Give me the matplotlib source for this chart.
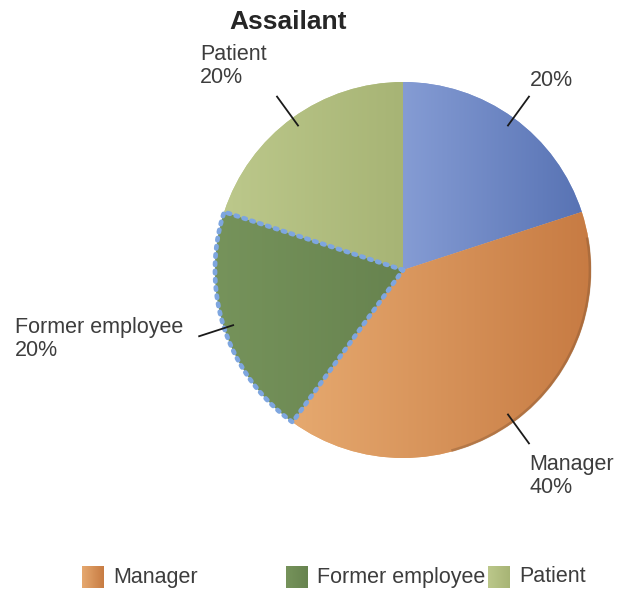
import matplotlib
matplotlib.use("Agg")
import matplotlib.pyplot as plt
import numpy as np
from matplotlib.colors import LinearSegmentedColormap
from matplotlib.patches import Arc

# ---- data ----
categories = ["", "Manager", "Former employee", "Patient"]
values = [20, 40, 20, 20]
pct_labels = ["20%", "40%", "20%", "20%"]
legend_labels = ["Manager", "Former employee", "Patient"]
light_colors = ["#859cd4", "#e6a96f", "#76935b", "#bcc88b"]
dark_colors = ["#5873b4", "#c77b43", "#67834f", "#a7b475"]

W, H = 621, 594
fig = plt.figure(figsize=(W / 100, H / 100), dpi=100)
ax = fig.add_axes([0, 0, 1, 1])

cx, cy, R = 403, H - 270, 188
wedges, _ = ax.pie(values, startangle=90, counterclock=False,
                   center=(cx, cy), radius=R,
                   colors=light_colors,
                   wedgeprops=dict(linewidth=0))
ax.set_xlim(0, W)
ax.set_ylim(0, H)
ax.set_aspect("equal")
ax.axis("off")

# gradient fill for each wedge
grad = np.linspace(0, 1, 256).reshape(1, -1)
for w, lc, dc in zip(wedges, light_colors, dark_colors):
    bb = w.get_path().get_extents(w.get_patch_transform())
    cmap = LinearSegmentedColormap.from_list("g", [lc, dc])
    im = ax.imshow(grad, cmap=cmap, extent=[bb.x0, bb.x1, bb.y0, bb.y1],
                   aspect="auto", zorder=2, interpolation="bilinear")
    im.set_clip_path(w)

# subtle shading on the right rim
ax.add_patch(Arc((cx, cy), 2 * R - 2, 2 * R - 2, theta1=-75, theta2=10,
                 color="#7a5030", lw=2.0, alpha=0.35, zorder=3))

# dotted selection border on "Former employee"
sel = wedges[2]
t1, t2 = sorted([sel.theta1, sel.theta2])
th = np.deg2rad(np.linspace(t1, t2, 120))
bx = np.concatenate([[cx], cx + R * np.cos(th), [cx]])
by = np.concatenate([[cy], cy + R * np.sin(th), [cy]])
ax.plot(bx, by, color="#7ea6df", lw=3.4, linestyle=(0, (0.5, 1.25)),
        dash_capstyle="round", solid_joinstyle="round", zorder=4)

# leader lines and labels
text_color = "#3d3d3d"
font = "Liberation Sans"
label_pos = [(530, 80), (529, 476), (15, 339), (200, 66)]
for w, cat, pct, (tx, ty) in zip(wedges, categories, pct_labels, label_pos):
    ang = np.deg2rad((w.theta1 + w.theta2) / 2)
    r0, r1 = 0.95 * R, 1.14 * R
    ax.plot([cx + r0 * np.cos(ang), cx + r1 * np.cos(ang)],
            [cy + r0 * np.sin(ang), cy + r1 * np.sin(ang)],
            color="#1a1a1a", lw=1.3, zorder=5)
    txt = f"{cat}\n{pct}" if cat else pct
    ax.text(tx, H - ty, txt, ha="left", va="center", fontsize=15.5,
            family=font, color=text_color, linespacing=1.15, zorder=6)

# title
ax.text(288, H - 22, "Assailant", ha="center", va="center", fontsize=19,
        fontweight="bold", family=font, color="#262626")

# legend
leg_x = [82, 286, 488]
for lbl, x0 in zip(legend_labels, leg_x):
    i = categories.index(lbl)
    cmap = LinearSegmentedColormap.from_list("g", [light_colors[i], dark_colors[i]])
    ax.imshow(grad, cmap=cmap, extent=[x0, x0 + 22, H - 588, H - 566],
              aspect="auto", zorder=6, interpolation="bilinear")
    ax.text(x0 + 31, H - 577, lbl, ha="left", va="center", fontsize=15.5,
            family=font, color=text_color, zorder=6)

ax.set_xlim(0, W)
ax.set_ylim(0, H)
fig.savefig("out.png", dpi=100)
